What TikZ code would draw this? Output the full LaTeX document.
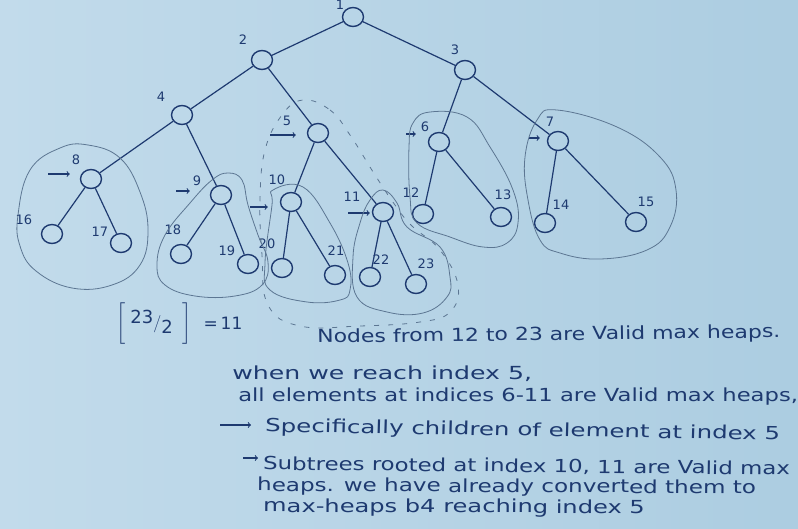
\documentclass[tikz,border=0pt]{standalone}
\usepackage{amsmath}
\usepackage{fontspec}
\usepackage{tikz}
\usepackage{xcolor}
\setmainfont{DejaVu Sans}
\definecolor{paper}{RGB}{194,219,235}
\definecolor{paperdark}{RGB}{172,205,225}
\definecolor{ink}{RGB}{30,58,112}
\definecolor{pencil}{RGB}{92,118,146}
\tikzset{heapnode/.style={ellipse,draw=ink,line width=1.4pt,minimum width=21pt,minimum height=19pt,inner sep=0pt},
 idx/.style={text=ink,inner sep=0pt,font=\fontsize{13}{15}\selectfont},
 link/.style={draw=ink,line width=1.2pt},
 ptr/.style={draw=ink,line width=1.1pt,->},
 blob/.style={draw=pencil,line width=0.8pt},
 note/.style={text=ink,anchor=west,inner sep=0pt,font=\fontsize{18}{20}\selectfont},
 }
\usetikzlibrary{shapes}

\begin{document}
\begin{tikzpicture}[x=1pt, y=-1pt]
        \useasboundingbox [left color=paper, right color=paperdark] (0, 0) rectangle (798, 528);
        \fill [left color=paper, right color=paperdark] (0, 0) rectangle (798, 528);
        \node [heapnode] (n1) at (353, 17) {};
        \node [heapnode] (n2) at (262, 60) {};
        \node [heapnode] (n3) at (465, 70) {};
        \node [heapnode] (n4) at (182, 115) {};
        \node [heapnode] (n5) at (318, 133) {};
        \node [heapnode] (n6) at (439, 142) {};
        \node [heapnode] (n7) at (558, 141) {};
        \node [heapnode] (n8) at (91, 179) {};
        \node [heapnode] (n9) at (221, 195) {};
        \node [heapnode] (n10) at (291, 202) {};
        \node [heapnode] (n11) at (383, 212) {};
        \node [heapnode] (n12) at (423, 214) {};
        \node [heapnode] (n13) at (501, 217) {};
        \node [heapnode] (n14) at (545, 223) {};
        \node [heapnode] (n15) at (636, 222) {};
        \node [heapnode] (n16) at (52, 234) {};
        \node [heapnode] (n17) at (121, 243) {};
        \node [heapnode] (n18) at (181, 254) {};
        \node [heapnode] (n19) at (248, 264) {};
        \node [heapnode] (n20) at (282, 268) {};
        \node [heapnode] (n21) at (335, 275) {};
        \node [heapnode] (n22) at (370, 277) {};
        \node [heapnode] (n23) at (416, 284) {};
        \foreach \a/\b in {1/2, 1/3, 2/4, 2/5, 3/6, 3/7, 4/8, 4/9, 5/10, 5/11, 6/12, 6/13, 7/14, 7/15,
                8/16, 8/17, 9/18, 9/19, 10/20, 10/21, 11/22, 11/23}
            \draw [link] (n\a) -- (n\b);
        \node [idx] (l1) at (340, 5) {1};
        \node [idx] (l2) at (243, 40) {2};
        \node [idx] (l3) at (455, 50) {3};
        \node [idx] (l4) at (161, 97) {4};
        \node [idx] (l5) at (287, 121) {5};
        \node [idx] (l6) at (425, 127) {6};
        \node [idx] (l7) at (550, 122) {7};
        \node [idx] (l8) at (76, 160) {8};
        \node [idx] (l9) at (197, 181) {9};
        \node [idx] (l10) at (277, 180) {10};
        \node [idx] (l11) at (352, 197) {11};
        \node [idx] (l12) at (411, 193) {12};
        \node [idx] (l13) at (503, 195) {13};
        \node [idx] (l14) at (561, 205) {14};
        \node [idx] (l15) at (646, 202) {15};
        \node [idx] (l16) at (24, 220) {16};
        \node [idx] (l17) at (100, 232) {17};
        \node [idx] (l18) at (173, 230) {18};
        \node [idx] (l19) at (227, 251) {19};
        \node [idx] (l20) at (267, 244) {20};
        \node [idx] (l21) at (336, 251) {21};
        \node [idx] (l22) at (381, 260) {22};
        \node [idx] (l23) at (426, 264) {23};
        \coordinate (p5) at (270, 135);
        \coordinate (p6) at (406, 134);
        \coordinate (p7) at (529, 138);
        \coordinate (p8) at (48, 174);
        \coordinate (p9) at (176, 191);
        \coordinate (p10) at (250, 207);
        \coordinate (p11) at (348, 213);
        \draw [ptr, shorten >=11pt] (p5) -- (p5 -| n5.west);
        \draw [ptr, shorten >=12pt] (p6) -- (p6 -| n6.west);
        \draw [ptr, shorten >=7pt] (p7) -- (p7 -| n7.west);
        \draw [ptr, shorten >=10pt] (p8) -- (p8 -| n8.west);
        \draw [ptr, shorten >=20pt] (p9) -- (p9 -| n9.west);
        \draw [ptr, shorten >=12pt] (p10) -- (p10 -| n10.west);
        \draw [ptr, shorten >=2pt] (p11) -- (p11 -| n11.west);
        \draw [blob] plot [smooth cycle, tension=0.7] coordinates {(18, 215) (30, 170) (60, 148) (88, 145)
                (120, 158) (140, 192) (148, 230) (140, 265) (112, 285) (72, 288) (36, 271) (20, 246)};
        \draw [blob] plot [smooth cycle, tension=0.7] coordinates {(228, 173) (242, 180) (248, 205) (258, 235)
                (268, 262) (262, 285) (235, 296) (195, 296) (165, 285) (157, 265) (165, 235) (190, 203) (212, 180)};
        \draw [blob] plot [smooth cycle, tension=0.7] coordinates {(273, 190) (303, 187) (330, 223) (348, 263)
                (350, 290) (340, 300) (307, 302) (270, 290) (265, 263) (272, 205)};
        \draw [blob] plot [smooth cycle, tension=0.7] coordinates {(383, 190) (397, 203) (407, 227) (440, 247)
                (450, 277) (447, 297) (423, 313) (387, 312) (357, 297) (353, 257) (360, 223) (370, 200)};
        \draw [blob] plot [smooth cycle, tension=0.7] coordinates {(430, 112) (467, 117) (490, 147) (513, 190)
                (518, 223) (507, 243) (483, 247) (450, 237) (417, 223) (410, 197) (409, 147) (413, 123)};
        \draw [blob] plot [smooth cycle, tension=0.7] coordinates {(557, 110) (617, 127) (660, 157) (676, 190)
                (670, 227) (647, 250) (600, 259) (560, 253) (540, 240) (528, 200) (525, 157) (537, 120)};
        \draw [blob, dash pattern=on 5pt off 9pt] plot [smooth cycle, tension=0.7] coordinates {(303, 100) (330, 110)
                (350, 135) (375, 175) (395, 205) (412, 226) (440, 250) (458, 285) (450, 312) (420, 322) (360, 326)
                (300, 326) (268, 305) (262, 255) (260, 200) (265, 150) (282, 115)};
        \node [text=ink, font=\fontsize{18}{20}\selectfont] (frac) at (154, 324)
                {$\bigg[\;\raisebox{5pt}{23}/\raisebox{-5pt}{2}\;\;\bigg]$};
        \node [text=ink, font=\fontsize{17}{20}\selectfont] (eq) at (223, 323) {=\,11};
        \node [note, xscale=1.22, rotate=0.8] (t0) at (317, 338) {Nodes from 12 to 23 are Valid max heaps.};
        \node [note, xscale=1.40] (t1) at (232, 374) {when we reach index 5,};
        \node [note, xscale=1.26] (t2) at (238, 397) {all elements at indices 6-11 are Valid max heaps,};
        \node [note, xscale=1.36, rotate=-1.2] (t3) at (265, 427) {Specifically children of element at index 5};
        \node [note, xscale=1.27, rotate=-0.7] (t4) at (263, 464) {Subtrees rooted at index 10, 11 are Valid max};
        \node [note, xscale=1.28, rotate=-0.4] (t5) at (257, 486) {heaps. we have already converted them to};
        \node [note, xscale=1.34, rotate=-0.3] (t6) at (263, 507) {max-heaps b4 reaching index 5};
        \coordinate (q3) at (220, 425);
        \coordinate (q4) at (243, 458);
        \draw [ptr, shorten >=14pt] (q3) -- (q3 -| t3.west);
        \draw [ptr, shorten >=5pt] (q4) -- (q4 -| t4.west);
    \end{tikzpicture}
\end{document}
